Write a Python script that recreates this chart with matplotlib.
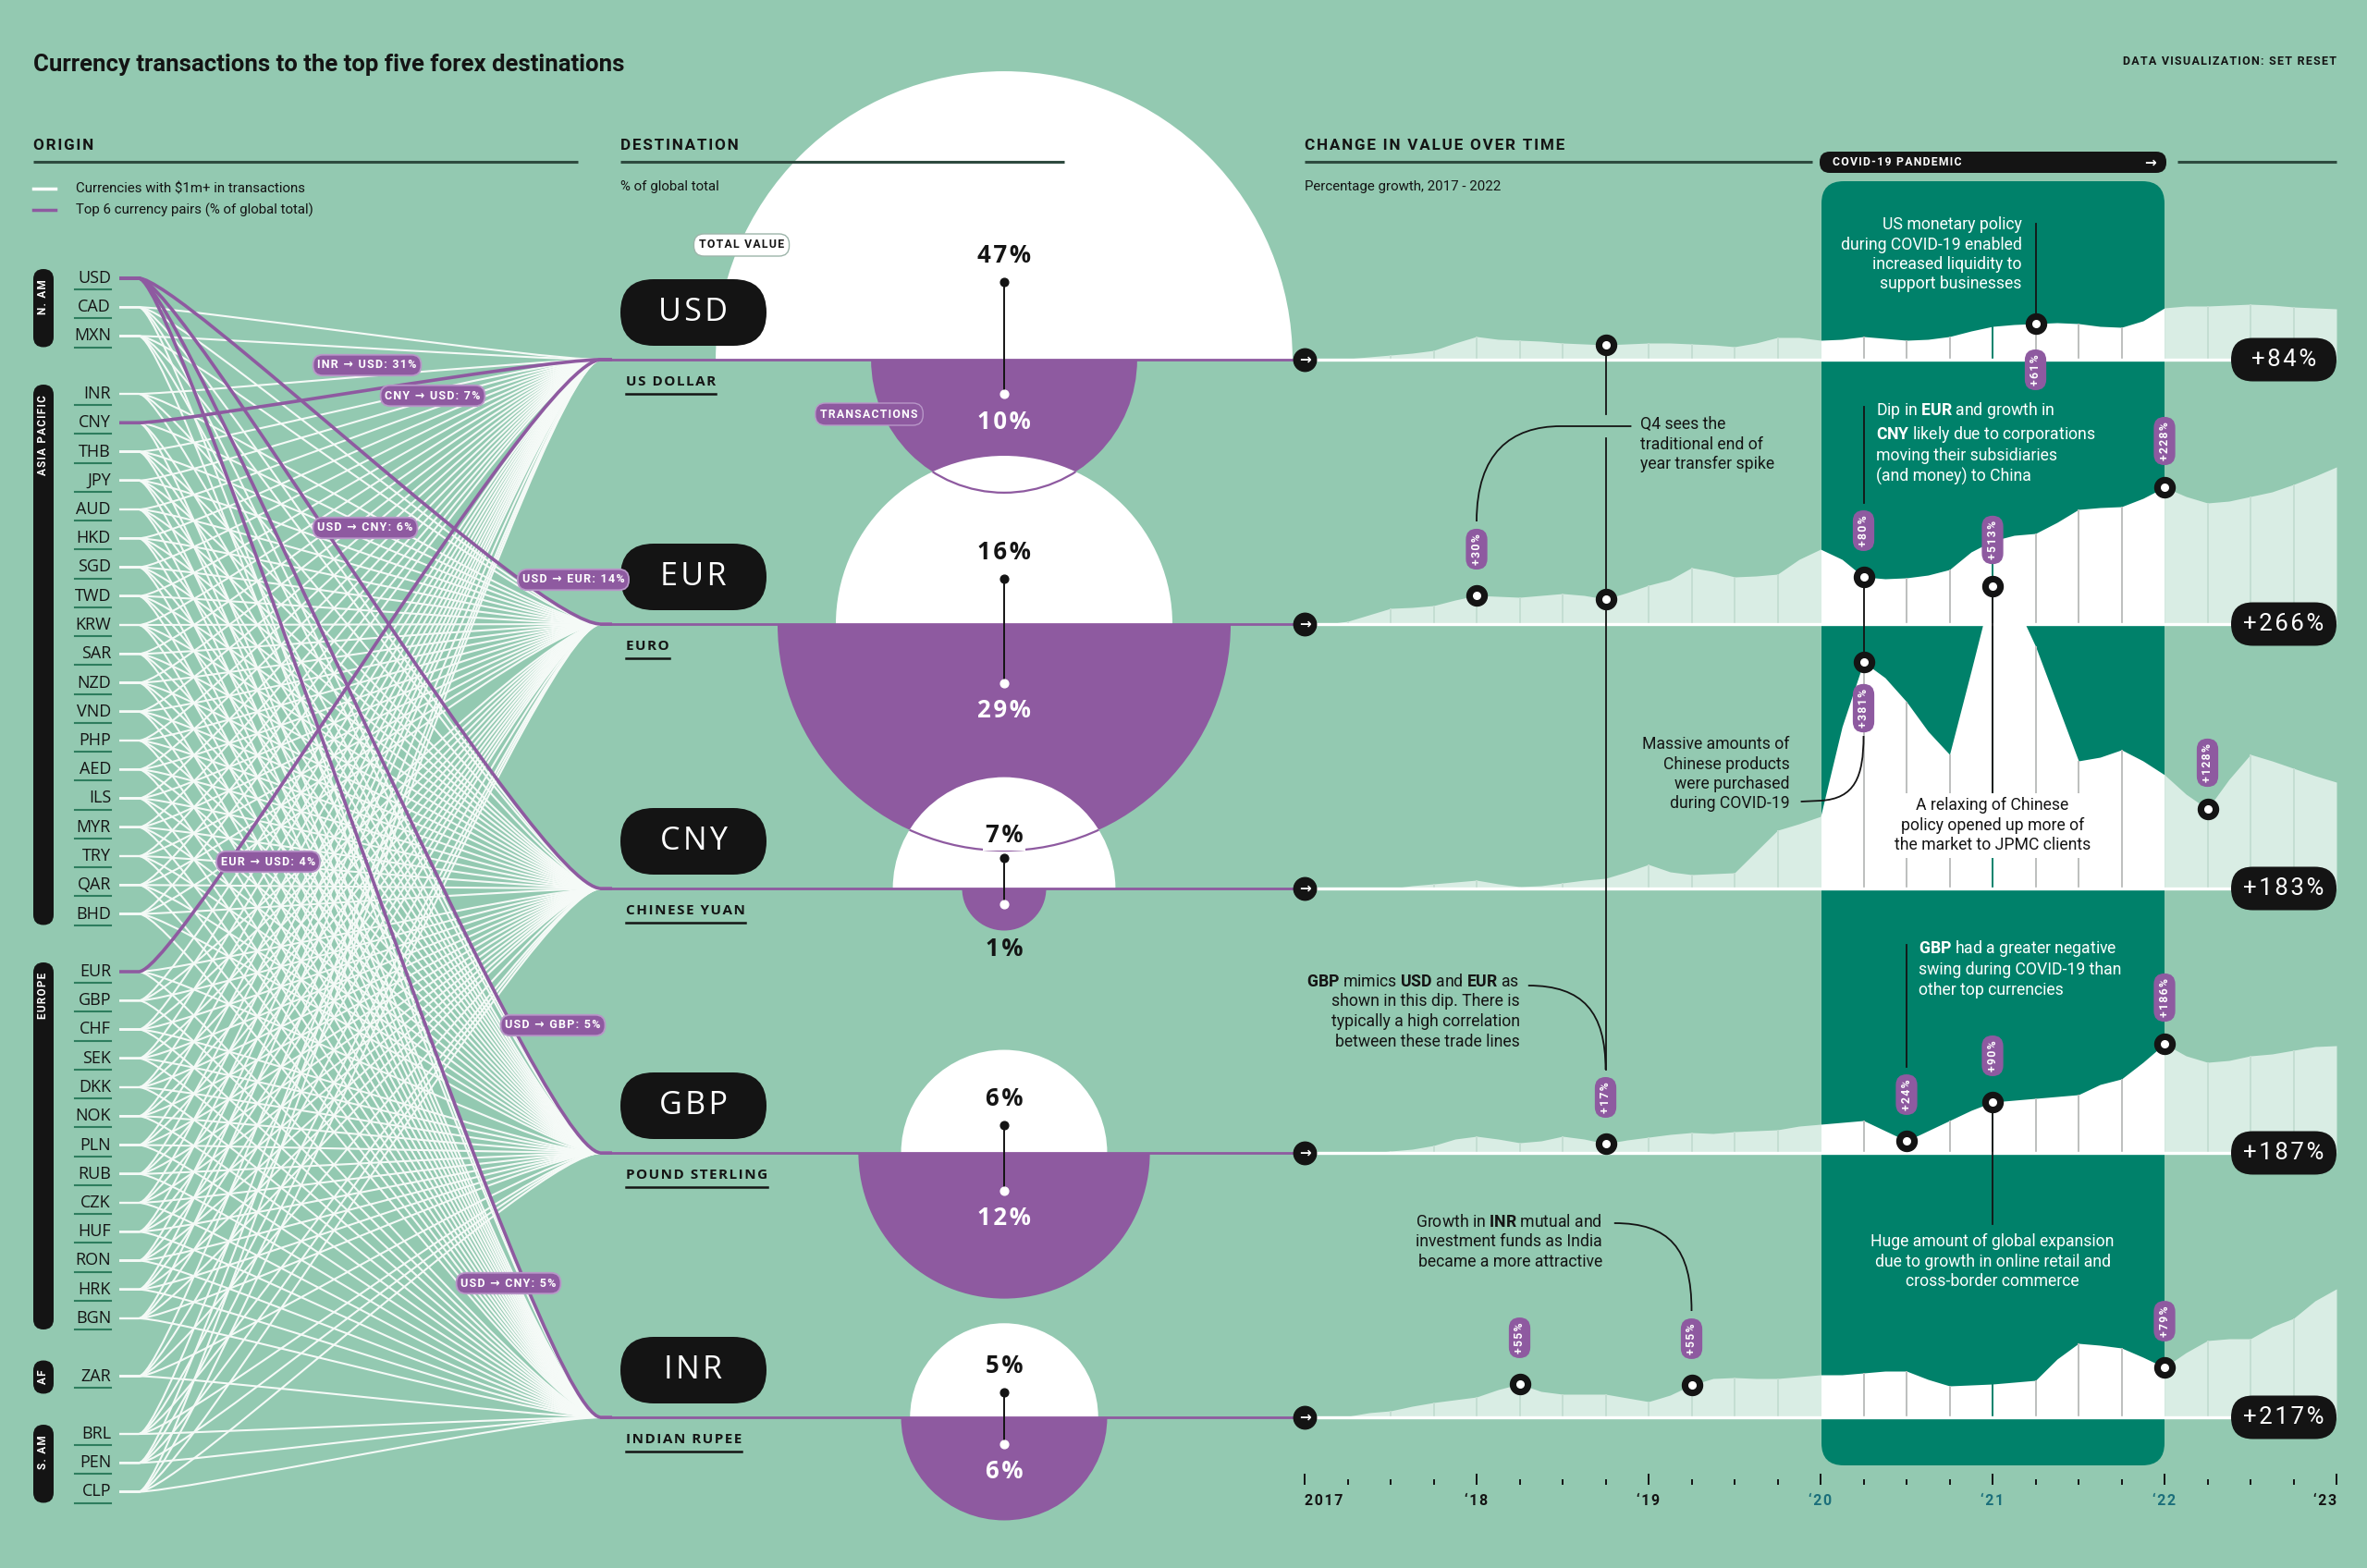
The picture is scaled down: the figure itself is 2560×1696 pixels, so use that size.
import numpy as np
import matplotlib
matplotlib.use('Agg')
import matplotlib.pyplot as plt
from matplotlib.patches import Wedge, Circle, FancyBboxPatch, PathPatch
from matplotlib.path import Path
from matplotlib.ticker import MultipleLocator, FixedLocator

W, H = 2560, 1696

BG = '#93C9B1'
PURPLE = '#8E5AA0'
TEAL = '#00816A'
LIGHT = '#D9EDE4'
INK = '#141414'
RULE = '#2E4A3F'

COND = ['Liberation Sans Narrow', 'Roboto', 'DejaVu Sans']
BODY = ['Open Sans', 'Noto Sans', 'DejaVu Sans']
NOTE = ['Roboto', 'DejaVu Sans']

plt.rcParams['font.family'] = BODY
plt.rcParams['mathtext.fontset'] = 'custom'
plt.rcParams['mathtext.rm'] = 'Roboto'
plt.rcParams['mathtext.bf'] = 'Roboto:bold'

# ---------------- data ----------------
regions = ['N. AM', 'ASIA PACIFIC', 'EUROPE', 'AF', 'S. AM']
north_america = ['USD', 'CAD', 'MXN']
asia_pacific = ['INR', 'CNY', 'THB', 'JPY', 'AUD', 'HKD', 'SGD', 'TWD', 'KRW', 'SAR',
                'NZD', 'VND', 'PHP', 'AED', 'ILS', 'MYR', 'TRY', 'QAR', 'BHD']
europe = ['EUR', 'GBP', 'CHF', 'SEK', 'DKK', 'NOK', 'PLN', 'RUB', 'CZK', 'HUF',
          'RON', 'HRK', 'BGN']
africa = ['ZAR']
south_america = ['BRL', 'PEN', 'CLP']
region_currencies = [north_america, asia_pacific, europe, africa, south_america]

destinations = ['USD', 'EUR', 'CNY', 'GBP', 'INR']
dest_names = ['US DOLLAR', 'EURO', 'CHINESE YUAN', 'POUND STERLING', 'INDIAN RUPEE']
total_value = [47, 16, 7, 6, 5]
transactions = [10, 29, 1, 12, 6]
end_growth = ['+84%', '+266%', '+183%', '+187%', '+217%']

top_pairs = [('USD', 'EUR'), ('USD', 'CNY'), ('USD', 'GBP'), ('USD', 'INR'),
             ('CNY', 'USD'), ('EUR', 'USD')]
pair_labels = ['INR → USD: 31%', 'CNY → USD: 7%', 'USD → CNY: 6%', 'USD → EUR: 14%',
               'EUR → USD: 4%', 'USD → GBP: 5%', 'USD → CNY: 5%']

# growth index, read every 1.5 months from Jan 2017 to Jan 2023
years = 2017 + np.arange(49) / 8
usd_growth = [0, 0, 1, 3, 5, 7, 10, 18, 25, 22, 21, 20, 18, 17, 16, 17, 18, 18, 17, 16,
              14, 18, 24, 24, 21, 22, 25, 23, 21, 22, 25, 31, 36, 38, 39, 40, 39, 36,
              35, 42, 56, 58, 58, 59, 60, 59, 57, 56, 55]
eur_growth = [0, 0, 3, 10, 17, 18, 20, 26, 31, 30, 29, 31, 33, 31, 27, 34, 42, 48, 61, 57,
              51, 52, 54, 70, 81, 70, 51, 49, 50, 53, 59, 78, 90, 96, 98, 110, 124, 126,
              127, 136, 148, 138, 131, 133, 138, 143, 151, 160, 170]
cny_growth = [0, 0, 0, 0, 0, 3, 5, 7, 9, 5, 2, 3, 6, 9, 11, 18, 26, 18, 15, 16,
              17, 40, 63, 70, 78, 175, 245, 228, 202, 170, 145, 235, 327, 312, 262, 200,
              138, 142, 150, 138, 123, 102, 86, 118, 145, 138, 130, 122, 115]
gbp_growth = [0, 0, 0, 0, 2, 4, 8, 15, 18, 15, 11, 13, 18, 15, 10, 14, 17, 20, 22, 21,
              23, 24, 25, 29, 31, 33, 35, 24, 13, 24, 35, 46, 55, 57, 59, 61, 63, 74,
              80, 98, 118, 105, 98, 100, 105, 107, 111, 115, 116]
inr_growth = [0, 0, 1, 5, 7, 12, 16, 19, 22, 30, 36, 28, 25, 25, 25, 21, 17, 24, 35, 42,
              43, 42, 42, 44, 46, 46, 48, 50, 50, 41, 34, 35, 36, 38, 40, 63, 80, 78,
              75, 65, 54, 70, 83, 85, 85, 98, 107, 126, 139]
series = [usd_growth, eur_growth, cny_growth, gbp_growth, inr_growth]

# highlighted points: (index, label, pill side: -1 above, 1 below)
highlights = [
    [(14, None, 0), (34, '+61%', 1)],
    [(8, '+30%', -1), (14, None, 0), (26, '+80%', -1), (40, '+228%', -1)],
    [(26, '+381%', 1), (32, '+513%', -1), (42, '+128%', -1)],
    [(14, '+17%', -1), (28, '+24%', -1), (32, '+90%', -1), (40, '+186%', -1)],
    [(10, '+55%', -1), (18, '+55%', -1), (40, '+79%', -1)],
]

year_labels = ['2017', '‘18', '‘19', '‘20', '‘21', '‘22', '‘23']

# ---------------- layout ----------------
BASE = [389 + 286 * i for i in range(5)]
ROW = 31.25
Y0 = 301
CX = 1086
R_K = 45.5
X_LAB = 120
X_START, X_FAN, X_END = 129, 150, 650
T_X0, T_X1 = 1411, 2527


def spaced(s):
    return '\u200a'.join(s)


fig = plt.figure(figsize=(W / 100, H / 100), dpi=100)
fig.patch.set_facecolor(BG)
ax = fig.add_axes([0, 0, 1, 1])
ax.set_xlim(0, W)
ax.set_ylim(H, 0)
ax.axis('off')

# ---- headers ----
ax.text(36, 70, 'Currency transactions to the top five forex destinations', fontsize=18.5,
        fontweight='bold', family=COND, va='center', color=INK)
ax.text(2527, 67, spaced('DATA VISUALIZATION: SET RESET'), fontsize=9, fontweight='bold',
        family=COND, va='center', ha='right', color=INK)
for x, label in [(36, 'ORIGIN'), (671, 'DESTINATION'), (1411, 'CHANGE IN VALUE OVER TIME')]:
    ax.text(x, 158, spaced(label), fontsize=12.3, fontweight='bold', family=COND,
            va='center', color=INK)
for x0, x1 in [(36, 625), (671, 1151), (1411, 1960), (2355, 2527)]:
    ax.plot([x0, x1], [175, 175], color=RULE, lw=2.2, zorder=9, solid_capstyle='butt')
ax.plot([36, 60], [204, 204], color='white', lw=2.5)
ax.plot([36, 60], [227, 227], color=PURPLE, lw=2.5)
ax.text(82, 204, 'Currencies with \\$1m+ in transactions', fontsize=10.8, family=COND,
        va='center', color=INK)
ax.text(82, 227, 'Top 6 currency pairs (% of global total)', fontsize=10.8, family=COND,
        va='center', color=INK)
ax.text(671, 202, '% of global total', fontsize=10.8, family=COND, va='center', color=INK)
ax.text(1411, 202, 'Percentage growth, 2017 - 2022', fontsize=10.8, family=COND,
        va='center', color=INK)

# ---- origin list ----
origin_y = {}
slot = 0
for reg, curs in zip(regions, region_currencies):
    first = slot
    for c in curs:
        origin_y[c] = Y0 + ROW * slot
        slot += 1
    y_a = Y0 + ROW * first - 10
    y_b = Y0 + ROW * (slot - 1) + 12
    short = y_b - y_a < 36
    if short:
        mid = (y_a + y_b) / 2
        y_a, y_b = mid - 18, mid + 18
    ax.add_patch(FancyBboxPatch((36, y_a), 22, y_b - y_a,
                                boxstyle='round,pad=0,rounding_size=11',
                                fc=INK, ec='none', zorder=4))
    if short:
        ax.text(47, (y_a + y_b) / 2, spaced(reg), rotation=90, fontsize=8.5,
                fontweight='bold', color='white', ha='center', va='center', family=COND,
                zorder=5)
    else:
        ax.text(47, y_a + 11, spaced(reg), rotation=90, fontsize=8.5, fontweight='bold',
                color='white', ha='center', va='top', family=COND, zorder=5)
    slot += 1

for c, y in origin_y.items():
    ax.text(X_LAB, y, c, fontsize=13, ha='right', va='center', color=INK, zorder=5)
    ax.plot([81, X_LAB], [y + 12, y + 12], color='#2E7D5E', lw=1.5, zorder=5)


def link(y0, y1):
    verts = [(X_START, y0), (X_FAN, y0), (X_FAN + 45, y0), (X_END - 70, y1),
             (X_END, y1), (X_END + 12, y1)]
    codes = [Path.MOVETO, Path.LINETO, Path.CURVE4, Path.CURVE4, Path.CURVE4, Path.LINETO]
    return Path(verts, codes)


for c, y in origin_y.items():
    for i, d in enumerate(destinations):
        if d == c:
            continue
        ax.add_patch(PathPatch(link(y, BASE[i]), fc='none', ec='#F5FAF7', lw=1.5,
                               zorder=2))
for o, d in top_pairs:
    ax.add_patch(PathPatch(link(origin_y[o], BASE[destinations.index(d)]), fc='none',
                           ec=PURPLE, lw=2.6, zorder=3))

pair_label_xy = [(397, 395), (468, 428), (395, 571), (620, 627), (290, 932),
                 (598, 1109), (550, 1388)]
for lab, (x, y) in zip(pair_labels, pair_label_xy):
    ax.text(x, y, spaced(lab), fontsize=9, fontweight='bold', color='white', ha='center',
            va='center', family=NOTE, zorder=6,
            bbox=dict(boxstyle='round,pad=0.38,rounding_size=0.85', fc=PURPLE,
                      ec='#B897C8', lw=1.3))

# ---- destinations: semicircles ----
for i, d in enumerate(destinations):
    b = BASE[i]
    rt = R_K * np.sqrt(total_value[i])
    rb = R_K * np.sqrt(transactions[i])
    z = 3 + i * 0.1
    top = Wedge((CX, b), rt, 180, 360, fc='white', ec='none', zorder=z)
    ax.add_patch(top)
    if i > 0:
        prev_rb = R_K * np.sqrt(transactions[i - 1])
        arc = Circle((CX, BASE[i - 1]), prev_rb, fill=False, ec=PURPLE, lw=1.6,
                     zorder=z + 0.02)
        ax.add_patch(arc)
        arc.set_clip_path(top)
    ax.add_patch(Wedge((CX, b), rb, 0, 180, fc=PURPLE, ec='none', zorder=z + 0.05))

    # baseline to the time panel
    ax.plot([X_END, T_X0], [b, b], color=PURPLE, lw=2.0, zorder=4.5)

    # pill + name
    ax.add_patch(FancyBboxPatch((671, b - 87), 158, 72,
                                boxstyle='round,pad=0,rounding_size=36',
                                fc=INK, ec='none', zorder=5))
    ax.text(750, b - 51, spaced(d), fontsize=24.5, color='white', ha='center',
            va='center', zorder=6)
    t = ax.text(677, b + 24, spaced(dest_names[i]), fontsize=11, fontweight='bold',
                color=INK, va='center', zorder=6)
    fig.canvas.draw()
    bb = t.get_window_extent().transformed(ax.transData.inverted())
    ax.plot([677, bb.x1], [b + 37, b + 37], color=INK, lw=1.8, zorder=6)

    # values
    y_top = b - 0.27 * rt
    y_bot = b + max(0.26 * rb, 17)
    ax.plot([CX, CX], [y_top, y_bot], color=INK, lw=1.4, zorder=7)
    ax.scatter([CX], [y_top], s=40, color=INK, zorder=8)
    ax.scatter([CX], [y_bot], s=40, color='white', zorder=8)
    txt_kw = dict(fontsize=18.5, fontweight='bold', ha='center', va='center', zorder=8)
    if i == 2:
        ax.text(CX, y_top - 25, spaced(f'{total_value[i]}%'), color=INK,
                bbox=dict(boxstyle='square,pad=0.12', fc='white', ec='none'), **txt_kw)
    else:
        ax.text(CX, y_top - 28, spaced(f'{total_value[i]}%'), color=INK, **txt_kw)
    if rb < 60:
        ax.text(CX, b + rb + 20, spaced(f'{transactions[i]}%'), color=INK, **txt_kw)
    else:
        ax.text(CX, y_bot + 30, spaced(f'{transactions[i]}%'), color='white', **txt_kw)

ax.text(802, 265, spaced('TOTAL VALUE'), fontsize=8.8, fontweight='bold', color=INK,
        ha='center', va='center', family=COND, zorder=9,
        bbox=dict(boxstyle='round,pad=0.45,rounding_size=0.9', fc='white', ec='#9DB5AA',
                  lw=1))
ax.text(940, 448, spaced('TRANSACTIONS'), fontsize=8.8, fontweight='bold', color='white',
        ha='center', va='center', family=COND, zorder=9,
        bbox=dict(boxstyle='round,pad=0.45,rounding_size=0.9', fc=PURPLE, ec='#B897C8',
                  lw=1))

# ---- covid panel ----
ax.add_patch(FancyBboxPatch((1970, 196), 371, 1389,
                            boxstyle='round,pad=0,rounding_size=24',
                            fc=TEAL, ec='none', zorder=1))
ax.add_patch(FancyBboxPatch((1968, 164), 375, 23, boxstyle='round,pad=0,rounding_size=11',
                            fc=INK, ec='none', zorder=9))
ax.text(1982, 175.5, spaced('COVID-19 PANDEMIC'), fontsize=8.8, fontweight='bold',
        color='white', va='center', family=COND, zorder=10)
ax.text(2332, 175.5, '→', fontsize=11, fontweight='bold', color='white', va='center',
        ha='right', family='DejaVu Sans', zorder=10)

# ---------------- time series ----------------
axt = fig.add_axes([T_X0 / W, 0, (T_X1 - T_X0) / W, 1])
axt.set_xlim(2017, 2023)
axt.set_ylim(H, 0)
axt.axis('off')
axt.patch.set_alpha(0)


def dot_y(r, k):
    return BASE[r] - series[r][k]


for r, vals in enumerate(series):
    b = BASE[r]
    top = b - np.array(vals, dtype=float)
    axt.fill_between(years[:25], b, top[:25], color=LIGHT, lw=0, zorder=2)
    axt.fill_between(years[24:41], b, top[24:41], color='white', lw=0, zorder=2)
    axt.fill_between(years[40:], b, top[40:], color=LIGHT, lw=0, zorder=2)
    for k in range(2, 48, 2):
        if k in (24, 40):
            continue
        col = '#BDBFBE' if 24 < k < 40 else '#C4DED2'
        if k == 32:
            col = TEAL
        axt.vlines(years[k], b, top[k], color=col, lw=1.4, zorder=2.5)
    axt.hlines(b, 2017, 2023, color='white', lw=2.4, zorder=3)
    axt.scatter([2017], [b], s=310, color=INK, zorder=9, clip_on=False)
    axt.text(2017, b, '→', fontsize=11, fontweight='bold', color='white', ha='center',
             va='center', family='DejaVu Sans', zorder=10)

    for k, lab, side in highlights[r]:
        y = top[k]
        axt.scatter([years[k]], [y], s=250, color=INK, zorder=7, clip_on=False)
        axt.scatter([years[k]], [y], s=30, color='white', zorder=7.5, clip_on=False)
        if lab:
            axt.text(years[k], y + side * 50, spaced(lab), rotation=90, fontsize=8.8,
                     fontweight='bold', color='white', ha='center', va='center',
                     family=NOTE, zorder=8,
                     bbox=dict(boxstyle='round,pad=0.42,rounding_size=0.95', fc=PURPLE,
                               ec='none'))

    axt.add_patch(FancyBboxPatch((2413, b - 23.5), 114, 47,
                                 boxstyle='round,pad=0,rounding_size=23.5', fc=INK,
                                 ec='none', zorder=9, transform=ax.transData,
                                 clip_on=False))
    axt.text(2470, b, spaced(end_growth[r]), fontsize=18.5, color='white', ha='center',
             va='center', transform=ax.transData, zorder=10, family=NOTE)

# annotation leader lines
PILL = 80
lines = [
    (years[14], dot_y(0, 14), 448), (years[14], 474, dot_y(3, 14) - PILL),
    (years[34], 242, dot_y(0, 34) - 8),
    (years[26], 440, dot_y(1, 26) - PILL), (years[26], dot_y(1, 26), dot_y(2, 26)),
    (years[32], dot_y(2, 32), 857),
    (years[28], 1022, dot_y(3, 28) - PILL),
    (years[32], dot_y(3, 32), 1324),
]
for t, y0, y1 in lines:
    axt.plot([t, t], [y0, y1], color=INK, lw=1.3, zorder=5)

curves = [
    [(2018.0, dot_y(1, 8) - PILL), (2018.0, 490), (2018.2, 461), (2018.49, 461),
     (2018.90, 461)],
    [(2020.25, dot_y(2, 26) + PILL), (2020.25, 840), (2020.2, 864), (2020.0, 866),
     (2019.885, 867)],
    [(2018.75, dot_y(3, 14) - PILL), (2018.75, 1095), (2018.62, 1066), (2018.30, 1066)],
    [(2019.25, dot_y(4, 18) - PILL), (2019.25, 1350), (2019.12, 1323), (2018.80, 1323)],
]
for pts in curves:
    codes = [Path.MOVETO, Path.CURVE4, Path.CURVE4, Path.CURVE4]
    codes += [Path.LINETO] * (len(pts) - 4)
    axt.add_patch(PathPatch(Path(pts, codes), fc='none', ec=INK, lw=1.3, zorder=5))

notes = [
    ('US monetary policy\nduring COVID-19 enabled\nincreased liquidity to\nsupport businesses',
     2021.17, 234, 'right', 'white'),
    ('Dip in $\\mathbf{EUR}$ and growth in\n$\\mathbf{CNY}$ likely due to corporations\n'
     'moving their subsidiaries\n(and money) to China', 2020.32, 433, 'left', 'white'),
    ('Q4 sees the\ntraditional end of\nyear transfer spike', 2018.95, 450, 'left', INK),
    ('Massive amounts of\nChinese products\nwere purchased\nduring COVID-19',
     2019.82, 796, 'right', INK),
    ('A relaxing of Chinese\npolicy opened up more of\nthe market to JPMC clients',
     2021.0, 862, 'center', INK),
    ('$\\mathbf{GBP}$ mimics $\\mathbf{USD}$ and $\\mathbf{EUR}$ as\nshown in this dip. There is\n'
     'typically a high correlation\nbetween these trade lines', 2018.25, 1053, 'right', INK),
    ('$\\mathbf{GBP}$ had a greater negative\nswing during COVID-19 than\nother top currencies',
     2020.57, 1015, 'left', 'white'),
    ('Growth in $\\mathbf{INR}$ mutual and\ninvestment funds as India\nbecame a more attractive',
     2018.73, 1313, 'right', INK),
    ('Huge amount of global expansion\ndue to growth in online retail and\n'
     'cross-border commerce', 2021.0, 1334, 'center', 'white'),
]
for txt, t, y, ha, col in notes:
    kw = {}
    if txt.startswith('A relaxing'):
        kw['bbox'] = dict(boxstyle='square,pad=0.25', fc='white', ec='none')
    axt.text(t, y, txt, fontsize=12.7, color=col, ha=ha, va='top', family=NOTE,
             multialignment=ha, linespacing=1.25, zorder=6, **kw)

# ---- time axis ----
axx = fig.add_axes([T_X0 / W, (H - 1606) / H, (T_X1 - T_X0) / W, 10 / H])
axx.set_xlim(2017, 2023)
axx.patch.set_alpha(0)
for s in axx.spines.values():
    s.set_visible(False)
axx.set_yticks([])
axx.xaxis.set_major_locator(FixedLocator(range(2017, 2024)))
axx.xaxis.set_minor_locator(MultipleLocator(0.25))
axx.set_xticklabels([spaced(s) for s in year_labels])
axx.tick_params(axis='x', which='major', direction='in', length=9, width=1.4,
                color=INK, pad=7, labelsize=11.5)
axx.tick_params(axis='x', which='minor', direction='in', length=4.5, width=1.4, color=INK)
ticklabels = axx.get_xticklabels()
for j, lab in enumerate(ticklabels):
    lab.set_fontweight('bold')
    lab.set_family(COND)
    lab.set_color('#1B6F7B' if year_labels[j] in ('‘20', '‘21', '‘22') else INK)
ticklabels[0].set_ha('left')
ticklabels[-1].set_ha('right')

fig.savefig('out.png', dpi=100, facecolor=BG)
